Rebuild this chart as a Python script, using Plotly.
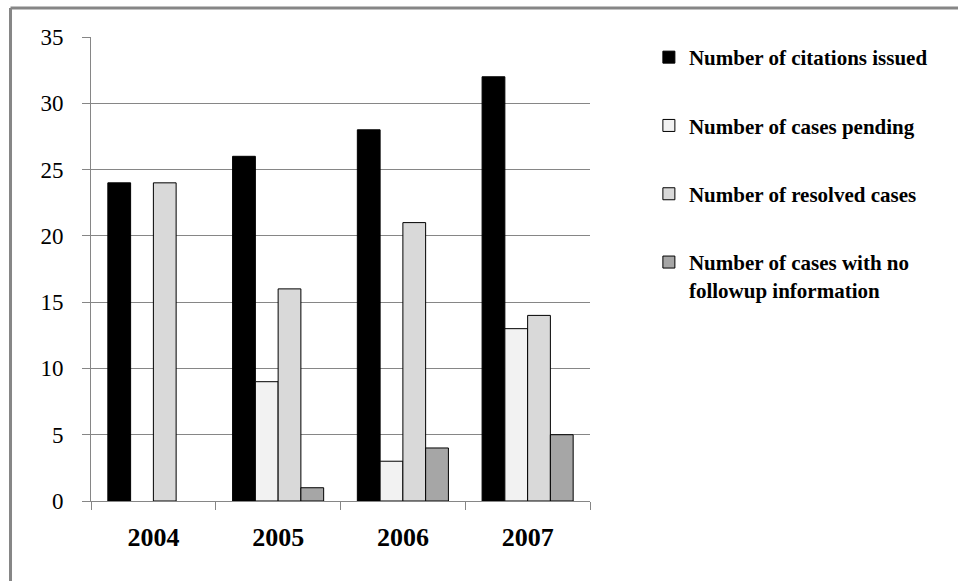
import plotly.graph_objects as go

years = ["2004", "2005", "2006", "2007"]
citations_issued = [24, 26, 28, 32]
cases_pending = [None, 9, 3, 13]
resolved_cases = [24, 16, 21, 14]
no_followup = [None, 1, 4, 5]

series = [
    ("Number of citations issued", citations_issued, "#000000"),
    ("Number of cases pending", cases_pending, "#F2F2F2"),
    ("Number of resolved cases", resolved_cases, "#D9D9D9"),
    ("Number of cases with no<br>followup information", no_followup, "#A6A6A6"),
]

GRID = "#868686"
FONT = "Liberation Serif"

fig = go.Figure()
for i, (name, vals, color) in enumerate(series):
    fig.add_trace(go.Bar(
        x=years, y=vals, name=name, legendgroup=f"g{i}",
        marker=dict(color=color, line=dict(color="#000000", width=1)),
    ))

# outer frame (top and left edges)
fig.add_shape(type="line", xref="paper", yref="paper",
              x0=-0.1613, x1=1.75, y0=1.0625, y1=1.0625,
              line=dict(color=GRID, width=3))
fig.add_shape(type="line", xref="paper", yref="paper",
              x0=-0.1613, x1=-0.1613, y0=1.0625, y1=-0.2,
              line=dict(color=GRID, width=3))

fig.update_layout(
    width=958, height=581,
    margin=dict(l=91, r=368, t=37, b=80),
    paper_bgcolor="white", plot_bgcolor="white",
    barmode="group", bargap=0.27, bargroupgap=0,
    font=dict(family=FONT, color="#000000"),
    legend=dict(
        x=1.118, xanchor="left", y=1.0, yanchor="top",
        font=dict(family=FONT, size=21, color="#000000", weight="bold"),
        tracegroupgap=38, valign="top",
        bgcolor="rgba(0,0,0,0)",
    ),
    showlegend=True,
)
fig.update_xaxes(
    type="category", showline=True, linecolor=GRID, linewidth=1,
    ticks="outside", tickson="boundaries", ticklen=8, tickcolor=GRID,
    showgrid=False, ticklabelstandoff=13,
    tickfont=dict(family=FONT, size=26, color="#000000", weight="bold"),
)
fig.update_yaxes(
    range=[0, 35], dtick=5, showgrid=True, gridcolor=GRID, gridwidth=1,
    zeroline=False, showline=True, linecolor=GRID, linewidth=1,
    ticks="outside", ticklen=8, tickcolor=GRID, ticklabelstandoff=14,
    tickfont=dict(family=FONT, size=23, color="#000000"),
)

fig.write_html("out.html")
